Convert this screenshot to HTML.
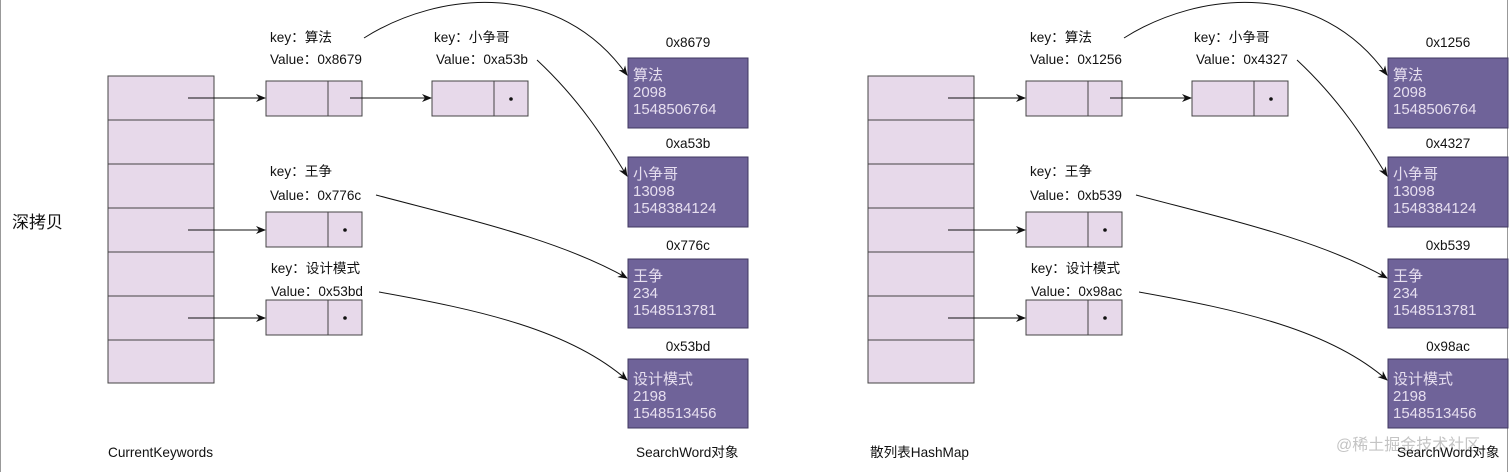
<!DOCTYPE html>
<html><head><meta charset="utf-8"><style>
html,body{margin:0;padding:0;background:#fff;}
svg{display:block;}
text{font-family:"Liberation Sans","Noto Sans CJK SC",sans-serif;font-size:13.6px;fill:#111;}
.w{fill:#e6deef;font-size:15px;}
</style></head><body>
<svg width="1512" height="472" viewBox="0 0 1512 472" xmlns="http://www.w3.org/2000/svg">
<defs>
<marker id="a" markerWidth="10" markerHeight="10" refX="9" refY="5" orient="auto" markerUnits="userSpaceOnUse">
<path d="M0,1 L10,5 L0,9 L3,5 z" fill="#111"/></marker>
<g id="d">
  <g fill="#e7d9ea" stroke="#444" stroke-width="1">
    <rect x="108" y="76" width="106" height="307"/>
    <line x1="108" y1="120" x2="214" y2="120"/><line x1="108" y1="164" x2="214" y2="164"/>
    <line x1="108" y1="208" x2="214" y2="208"/><line x1="108" y1="252" x2="214" y2="252"/>
    <line x1="108" y1="296" x2="214" y2="296"/><line x1="108" y1="340" x2="214" y2="340"/>
    <rect x="266" y="81" width="96" height="35"/><line x1="328" y1="81" x2="328" y2="116"/>
    <rect x="432" y="81" width="96" height="35"/><line x1="494" y1="81" x2="494" y2="116"/>
    <rect x="266" y="212" width="96" height="35"/><line x1="328" y1="212" x2="328" y2="247"/>
    <rect x="266" y="300" width="96" height="35"/><line x1="328" y1="300" x2="328" y2="335"/>
  </g>
  <g fill="#111"><circle cx="511" cy="99" r="1.8"/><circle cx="345" cy="230" r="1.8"/><circle cx="345" cy="318" r="1.8"/></g>
  <g stroke="#111" stroke-width="1" fill="none" marker-end="url(#a)">
    <line x1="188" y1="98" x2="265" y2="98"/>
    <line x1="350" y1="98" x2="431" y2="98"/>
    <line x1="188" y1="230" x2="265" y2="230"/>
    <line x1="188" y1="318" x2="265" y2="318"/>
    <path d="M364,38 C440,-10 560,-20 627,75"/>
    <path d="M537,60 C580,100 605,140 627,176"/>
    <path d="M376,195 C470,220 560,240 627,278"/>
    <path d="M379,292 C480,310 570,330 627,380"/>
  </g>
  <g fill="#6f6399" stroke="#3f3760" stroke-width="1">
    <rect x="628" y="58" width="120" height="70"/>
    <rect x="628" y="157" width="120" height="70"/>
    <rect x="628" y="259" width="120" height="69"/>
    <rect x="628" y="359" width="120" height="69"/>
  </g>
</g>
</defs>
<line x1="0.5" y1="0" x2="0.5" y2="472" stroke="#999"/>
<line x1="1507.5" y1="0" x2="1507.5" y2="472" stroke="#999"/>
<use href="#d"/>
<use href="#d" transform="translate(760,0)"/>
<text x="12" y="228" style="font-size:17px">深拷贝</text>
<g>
<text x="270" y="42">key：算法</text><text x="270" y="64">Value：0x8679</text>
<text x="434" y="42">key：小争哥</text><text x="436" y="64">Value：0xa53b</text>
<text x="270" y="176">key：王争</text><text x="270" y="200">Value：0x776c</text>
<text x="271" y="273">key：设计模式</text><text x="271" y="296">Value：0x53bd</text>
<text x="688" y="47" text-anchor="middle">0x8679</text>
<text x="688" y="148" text-anchor="middle">0xa53b</text>
<text x="688" y="250" text-anchor="middle">0x776c</text>
<text x="688" y="351" text-anchor="middle">0x53bd</text>
<text class="w" x="633" y="80">算法</text><text class="w" x="633" y="97">2098</text><text class="w" x="633" y="114">1548506764</text>
<text class="w" x="633" y="179">小争哥</text><text class="w" x="633" y="196">13098</text><text class="w" x="633" y="213">1548384124</text>
<text class="w" x="633" y="281">王争</text><text class="w" x="633" y="298">234</text><text class="w" x="633" y="315">1548513781</text>
<text class="w" x="633" y="384">设计模式</text><text class="w" x="633" y="401">2198</text><text class="w" x="633" y="418">1548513456</text>
<text x="108" y="457">CurrentKeywords</text>
<text x="636" y="457">SearchWord对象</text>
</g>
<g>
<text x="1030" y="42">key：算法</text><text x="1030" y="64">Value：0x1256</text>
<text x="1194" y="42">key：小争哥</text><text x="1196" y="64">Value：0x4327</text>
<text x="1030" y="176">key：王争</text><text x="1030" y="200">Value：0xb539</text>
<text x="1031" y="273">key：设计模式</text><text x="1031" y="296">Value：0x98ac</text>
<text x="1448" y="47" text-anchor="middle">0x1256</text>
<text x="1448" y="148" text-anchor="middle">0x4327</text>
<text x="1448" y="250" text-anchor="middle">0xb539</text>
<text x="1448" y="351" text-anchor="middle">0x98ac</text>
<text class="w" x="1393" y="80">算法</text><text class="w" x="1393" y="97">2098</text><text class="w" x="1393" y="114">1548506764</text>
<text class="w" x="1393" y="179">小争哥</text><text class="w" x="1393" y="196">13098</text><text class="w" x="1393" y="213">1548384124</text>
<text class="w" x="1393" y="281">王争</text><text class="w" x="1393" y="298">234</text><text class="w" x="1393" y="315">1548513781</text>
<text class="w" x="1393" y="384">设计模式</text><text class="w" x="1393" y="401">2198</text><text class="w" x="1393" y="418">1548513456</text>
<text x="870" y="457">散列表HashMap</text>
<text x="1336" y="450" style="font-size:16px;fill:#c4c4c4">@稀土掘金技术社区</text>
<text x="1397" y="457">SearchWord对象</text>
</g>
</svg>
</body></html>
